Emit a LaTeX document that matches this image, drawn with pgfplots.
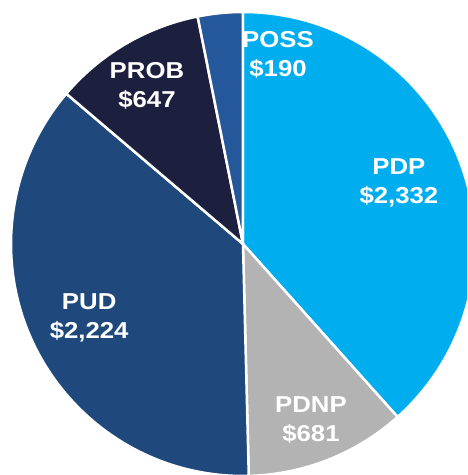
\documentclass[border=0pt]{standalone}
\usepackage{fontspec}
\setmainfont{Liberation Sans}
\newfontfamily\lblfont[FakeStretch=1.12]{Liberation Sans}
\usepackage{pgfplots}
\usepackage{pgfplotstable}
\pgfplotsset{compat=1.18}

\definecolor{cPDP}{HTML}{00AEEF}
\definecolor{cPDNP}{HTML}{B3B3B3}
\definecolor{cPUD}{HTML}{1F497D}
\definecolor{cPROB}{HTML}{1C1F3E}
\definecolor{cPOSS}{HTML}{25589B}

% slices in clockwise order, starting at 12 o'clock
\pgfplotstableread{
name value colour
PDP  2332 cPDP
PDNP 681  cPDNP
PUD  2224 cPUD
PROB 647  cPROB
POSS 190  cPOSS
}\piedata

\begin{document}
\begin{tikzpicture}[
  lbl/.style={text=white, align=center,
    font=\lblfont\fontsize{23}{29}\selectfont\bfseries},
]
\useasboundingbox (0,0) rectangle (467pt,475pt);
\begin{axis}[
  at={(0,0)}, anchor=south west,
  x=232pt, y=232pt,
  xmin=-1.0474, xmax=0.9655,
  ymin=-0.9957, ymax=1.0517,
  hide axis,
  clip=true,
]
\pgfplotsextra{%
  \begin{scope}
  \clip (axis cs:-1.0474,-0.9957) rectangle (axis cs:0.9655,1.0517);
  \pgfmathsetmacro\total{0}%
  \pgfplotstablegetrowsof{\piedata}%
  \pgfmathtruncatemacro\lastrow{\pgfplotsretval-1}%
  \pgfplotsforeachungrouped \r in {0,...,\lastrow}{%
    \pgfplotstablegetelem{\r}{value}\of\piedata
    \pgfmathsetmacro\total{\total+\pgfplotsretval}%
  }%
  \def\startang{90}%
  \pgfplotsforeachungrouped \r in {0,...,\lastrow}{%
    \pgfplotstablegetelem{\r}{value}\of\piedata
    \pgfmathsetmacro\endang{\startang-(\pgfplotsretval/\total)*360}%
    \pgfplotstablegetelem{\r}{colour}\of\piedata
    \let\slicecol\pgfplotsretval
    \fill[fill=\slicecol, draw=white, line width=2.5pt, line join=round]
      (axis cs:0,0) -- ++(\startang:232pt)
      arc[start angle=\startang, end angle=\endang, radius=232pt] -- cycle;
    \let\startang\endang
  }%
  \end{scope}
}
\node[lbl] at (axis cs:0.672,0.263)   {PDP\\\$2,332};
\node[lbl] at (axis cs:0.293,-0.759)  {PDNP\\\$681};
\node[lbl] at (axis cs:-0.663,-0.317) {PUD\\\$2,224};
\node[lbl] at (axis cs:-0.414,0.683)  {PROB\\\$647};
\node[lbl] at (axis cs:0.151,0.815)   {POSS\\\$190};
\end{axis}
\end{tikzpicture}
\end{document}
